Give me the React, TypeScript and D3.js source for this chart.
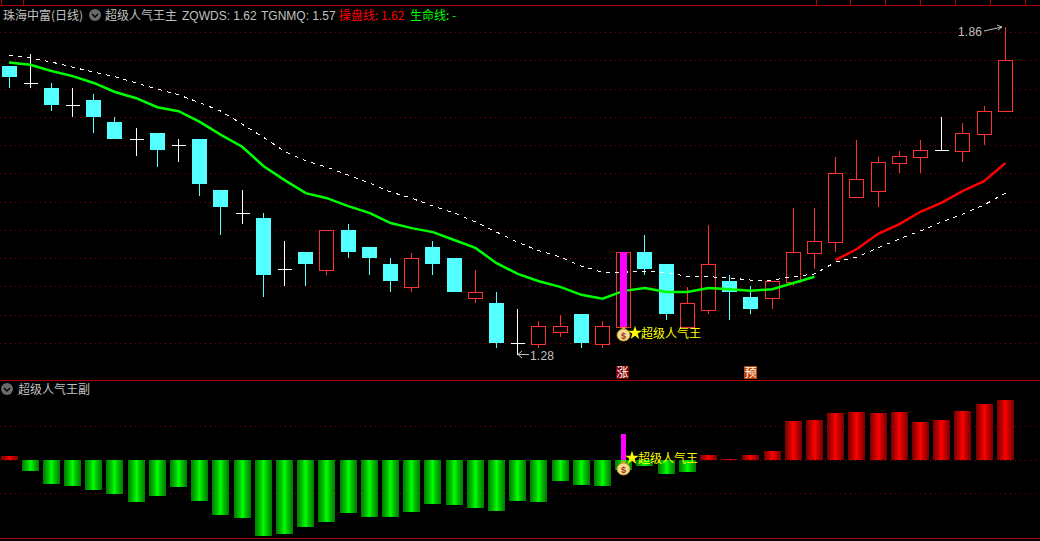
import React from 'react';
import * as d3 from 'd3';

const WIDTH = 1040;
const HEIGHT = 541;

// daily candles
const highs = [1.791, 1.812, 1.761, 1.752, 1.741, 1.701, 1.681, 1.672, 1.662, 1.662, 1.571, 1.571, 1.531, 1.481, 1.462, 1.501, 1.511, 1.471, 1.451, 1.46, 1.481, 1.451, 1.43, 1.391, 1.361, 1.34, 1.35, 1.352, 1.34, 1.462, 1.492, 1.441, 1.4, 1.51, 1.421, 1.402, 1.41, 1.54, 1.54, 1.63, 1.66, 1.63, 1.64, 1.66, 1.701, 1.69, 1.72, 1.86];
const opens = [1.791, 1.761, 1.752, 1.722, 1.731, 1.692, 1.662, 1.672, 1.651, 1.662, 1.571, 1.531, 1.522, 1.432, 1.462, 1.43, 1.501, 1.471, 1.441, 1.4, 1.471, 1.451, 1.38, 1.372, 1.301, 1.299, 1.32, 1.352, 1.299, 1.329, 1.462, 1.441, 1.329, 1.359, 1.41, 1.382, 1.38, 1.409, 1.46, 1.479, 1.559, 1.57, 1.619, 1.63, 1.642, 1.64, 1.671, 1.711];
const closes = [1.772, 1.761, 1.722, 1.722, 1.701, 1.662, 1.662, 1.642, 1.651, 1.582, 1.541, 1.531, 1.421, 1.432, 1.441, 1.501, 1.462, 1.451, 1.41, 1.451, 1.441, 1.391, 1.391, 1.301, 1.301, 1.331, 1.331, 1.301, 1.331, 1.462, 1.432, 1.352, 1.372, 1.441, 1.391, 1.361, 1.41, 1.462, 1.481, 1.602, 1.591, 1.621, 1.632, 1.642, 1.642, 1.672, 1.711, 1.801];
const lows = [1.752, 1.752, 1.711, 1.701, 1.672, 1.662, 1.632, 1.612, 1.621, 1.561, 1.492, 1.511, 1.382, 1.402, 1.402, 1.421, 1.451, 1.421, 1.391, 1.391, 1.421, 1.391, 1.372, 1.292, 1.28, 1.292, 1.311, 1.292, 1.292, 1.329, 1.421, 1.341, 1.329, 1.352, 1.341, 1.352, 1.361, 1.402, 1.432, 1.462, 1.559, 1.541, 1.602, 1.602, 1.642, 1.621, 1.651, 1.711];

// 操盘线 / 生命线 share one series, it turns red from index 39 on
const mainLine = [1.797, 1.793, 1.782, 1.773, 1.761, 1.745, 1.734, 1.718, 1.711, 1.692, 1.669, 1.648, 1.614, 1.589, 1.566, 1.557, 1.543, 1.531, 1.513, 1.504, 1.497, 1.483, 1.469, 1.442, 1.423, 1.41, 1.4, 1.386, 1.379, 1.393, 1.398, 1.391, 1.391, 1.398, 1.396, 1.393, 1.396, 1.407, 1.418, 1.448, 1.467, 1.494, 1.511, 1.533, 1.549, 1.57, 1.587, 1.619];
const dashLine = [1.81, 1.805, 1.798, 1.789, 1.78, 1.772, 1.761, 1.75, 1.74, 1.726, 1.711, 1.688, 1.665, 1.64, 1.623, 1.612, 1.598, 1.584, 1.568, 1.557, 1.543, 1.531, 1.515, 1.497, 1.479, 1.464, 1.453, 1.437, 1.426, 1.426, 1.428, 1.425, 1.419, 1.418, 1.416, 1.412, 1.412, 1.418, 1.423, 1.444, 1.453, 1.469, 1.485, 1.499, 1.515, 1.529, 1.545, 1.566];
const RED_FROM = 39;

const priceGrid = [1.3, 1.35, 1.4, 1.45, 1.5, 1.55, 1.6, 1.65, 1.7, 1.75, 1.8, 1.85];

// lower pane histogram
const subBars = [0.13, -0.32, -0.71, -0.77, -0.89, -1.01, -1.24, -1.07, -0.8, -1.21, -1.63, -1.72, -2.26, -2.2, -1.99, -1.84, -1.57, -1.69, -1.69, -1.54, -1.3, -1.33, -1.42, -1.51, -1.21, -1.24, -0.62, -0.74, -0.77, -0.29, -0.17, -0.41, -0.35, 0.16, 0.03, 0.16, 0.28, 1.17, 1.2, 1.41, 1.44, 1.41, 1.44, 1.14, 1.2, 1.47, 1.68, 1.8];
const subGrid = [-1, 0, 1];
const SIGNAL_INDEX = 29;
const SIGNAL_BAR = 0.8;
const WARN_INDEX = 35;

const topTabs = [1, 23, 816, 850, 885, 920, 955, 990, 1025];

const CYAN = '#54ffff';
const RED = '#ff3232';
const GRID = '#900000';
const BORDER = '#b00000';
const GREY = '#c0c0c0';
const CJK = '"Noto Sans CJK SC", "Liberation Sans", sans-serif';
const LATIN = '"Liberation Sans", "Noto Sans CJK SC", sans-serif';

const xScale = d3.scaleLinear().domain([0, 47]).range([9, 1005.3]);
const yPrice = d3.scaleLinear().domain([1.28, 1.86]).range([354.7, 27]);
const ySub = d3.scaleLinear().domain([-1, 1]).range([493.8, 426.8]);

const px = (v: number) => Math.floor(v) + 0.5;
const cx = (i: number) => px(xScale(i));

const priceLine = d3.line<number>()
  .x((_, i) => xScale(i))
  .y(d => yPrice(d));

const starPath = d3.symbol(d3.symbolStar, 60)() || '';

const Chevron = ({ x, y }: { x: number; y: number }) => (
  <g>
    <circle cx={x} cy={y} r={6} fill="#6a6a6a" />
    <path d={`M${x - 3},${y - 1} L${x},${y + 2} L${x + 3},${y - 1}`} fill="none" stroke="#000" strokeWidth={1.4} />
  </g>
);

const MoneyBag = ({ x, y }: { x: number; y: number }) => (
  <g>
    <rect x={x - 2} y={y - 8} width={4} height={3} fill="#d8a030" />
    <ellipse cx={x} cy={y} rx={6.5} ry={6} fill="#f4dc90" stroke="#c89030" strokeWidth={1} />
    <text x={x} y={y + 3.5} fontSize={9} fontWeight="bold" fontFamily={LATIN} textAnchor="middle" fill="#a03020">$</text>
  </g>
);

const StarLabel = ({ x, y }: { x: number; y: number }) => (
  <g>
    <path d={starPath} transform={`translate(${x + 6},${y - 5})`} fill="#ffff00" />
    <text x={x + 12} y={y} fontSize={12} fontFamily={CJK} fill="#ffff00">超级人气王</text>
  </g>
);

const Candle = ({ i }: { i: number }) => {
  const x = cx(i);
  const top = Math.round(yPrice(Math.max(opens[i], closes[i])));
  const bottom = Math.round(yPrice(Math.min(opens[i], closes[i])));
  const hi = Math.round(yPrice(highs[i]));
  const lo = Math.round(yPrice(lows[i]));

  if (opens[i] === closes[i]) {
    return (
      <g stroke="#fff" strokeWidth={1} shapeRendering="crispEdges">
        <line x1={x} x2={x} y1={hi} y2={lo} />
        <line x1={x - 7} x2={x + 7} y1={top + 0.5} y2={top + 0.5} />
      </g>
    );
  }
  if (closes[i] < opens[i]) {
    return (
      <g shapeRendering="crispEdges">
        <line x1={x} x2={x} y1={hi} y2={lo} stroke={CYAN} />
        <rect x={x - 7.5} y={top} width={15} height={bottom - top} fill={CYAN} />
      </g>
    );
  }
  return (
    <g stroke={RED} strokeWidth={1} shapeRendering="crispEdges">
      <line x1={x} x2={x} y1={hi} y2={top} />
      <line x1={x} x2={x} y1={bottom} y2={lo} />
      <rect x={x - 7} y={top + 0.5} width={14} height={bottom - top} fill="#000" />
    </g>
  );
};

const barStops = (dark: string, mid: string, bright: string) => (
  <>
    <stop offset="0%" stopColor={dark} />
    <stop offset="30%" stopColor={mid} />
    <stop offset="50%" stopColor={bright} />
    <stop offset="70%" stopColor={mid} />
    <stop offset="100%" stopColor={dark} />
  </>
);

export default function App() {
  const greenPath = priceLine.defined((_, i) => i < RED_FROM)(mainLine) || '';
  const redPath = priceLine.defined((_, i) => i >= RED_FROM)(mainLine) || '';
  const dashPath = priceLine.defined(() => true)(dashLine) || '';
  const zero = ySub(0);

  return (
    <svg
      width={WIDTH}
      height={HEIGHT}
      style={{ position: 'fixed', left: 0, top: 0, background: '#000', display: 'block' }}
    >
      <defs>
        <linearGradient id="barGreen">{barStops('#007a00', '#00c000', '#00ff00')}</linearGradient>
        <linearGradient id="barRed">{barStops('#780000', '#c00000', '#ff0000')}</linearGradient>
      </defs>

      {/* pane borders */}
      <g stroke={BORDER} strokeWidth={1} shapeRendering="crispEdges">
        <line x1={0} x2={WIDTH} y1={5.5} y2={5.5} />
        <line x1={0} x2={WIDTH} y1={380.5} y2={380.5} />
        <line x1={0} x2={WIDTH} y1={538.5} y2={538.5} />
        {topTabs.map(x => <line key={x} x1={x + 0.5} x2={x + 0.5} y1={0} y2={5} />)}
      </g>

      {/* price grid */}
      <g stroke={GRID} strokeWidth={1} strokeDasharray="1 4" shapeRendering="crispEdges">
        {priceGrid.map(v => (
          <line key={v} x1={0} x2={WIDTH} y1={Math.floor(yPrice(v)) + 0.5} y2={Math.floor(yPrice(v)) + 0.5} />
        ))}
        {subGrid.map(v => (
          <line key={v} x1={0} x2={WIDTH} y1={Math.floor(ySub(v)) + 0.5} y2={Math.floor(ySub(v)) + 0.5} />
        ))}
      </g>

      {/* candles */}
      {highs.map((_, i) => <Candle key={i} i={i} />)}

      {/* moving lines */}
      <path d={dashPath} fill="none" stroke="#fff" strokeWidth={1} strokeDasharray="4 5" shapeRendering="crispEdges" />
      <path d={greenPath} fill="none" stroke="#00ff00" strokeWidth={2.5} />
      <path d={redPath} fill="none" stroke="#ff0000" strokeWidth={2.5} />

      {/* signal day */}
      <rect
        x={cx(SIGNAL_INDEX) - 3.5}
        y={Math.round(yPrice(highs[SIGNAL_INDEX]))}
        width={7}
        height={Math.round(yPrice(lows[SIGNAL_INDEX])) - Math.round(yPrice(highs[SIGNAL_INDEX]))}
        fill="#ff00ff"
      />
      <MoneyBag x={cx(SIGNAL_INDEX)} y={335} />
      <StarLabel x={629} y={338} />

      {/* high / low marks */}
      <text x={958} y={36} fontSize={12} letterSpacing={0.2} fontFamily={LATIN} fill={GREY}>1.86</text>
      <path d="M984,31 L1002,27 M997,25 L1002,27 L998,30" fill="none" stroke={GREY} strokeWidth={1} />
      <text x={530} y={360} fontSize={12} letterSpacing={0.2} fontFamily={LATIN} fill={GREY}>1.28</text>
      <path d="M529,354.5 L518,354.5 M522,351 L518,354.5 L522,358" fill="none" stroke={GREY} strokeWidth={1} />

      {/* event tags */}
      <rect x={616} y={366} width={13} height={13} fill="#800000" />
      <text x={622.5} y={377} fontSize={12} fontFamily={CJK} textAnchor="middle" fill="#fff">涨</text>
      <rect x={cx(WARN_INDEX) - 6.5} y={366} width={13} height={13} fill="#c04000" />
      <text x={cx(WARN_INDEX)} y={377} fontSize={12} fontFamily={CJK} textAnchor="middle" fill="#fff">预</text>

      {/* lower pane */}
      {subBars.map((v, i) => {
        const y = Math.round(ySub(Math.max(v, 0)));
        const h = Math.max(1, Math.abs(Math.round(ySub(v)) - Math.round(zero)));
        return (
          <rect
            key={i}
            x={cx(i) - 8.5}
            y={y}
            width={17}
            height={h}
            fill={v < 0 ? 'url(#barGreen)' : 'url(#barRed)'}
            shapeRendering="crispEdges"
          />
        );
      })}
      <rect
        x={cx(SIGNAL_INDEX) - 2.5}
        y={ySub(SIGNAL_BAR)}
        width={5}
        height={zero - ySub(SIGNAL_BAR)}
        fill="#ff00ff"
        shapeRendering="crispEdges"
      />
      <MoneyBag x={cx(SIGNAL_INDEX)} y={469} />
      <StarLabel x={626} y={463} />

      {/* titles */}
      <text x={3} y={20} fontSize={12} fontFamily={CJK} fill={GREY}>珠海中富(日线)</text>
      <Chevron x={95} y={15} />
      <text x={105} y={20} fontSize={12} fontFamily={CJK} fill={GREY}>超级人气王主</text>
      <text x={182} y={20} fontSize={12} fontFamily={LATIN} fill={GREY}>ZQWDS: 1.62</text>
      <text x={261} y={20} fontSize={12} fontFamily={LATIN} fill={GREY}>TGNMQ: 1.57</text>
      <text x={339} y={20} fontSize={12} fontFamily={CJK} fill="#ff0000">操盘线: 1.62</text>
      <text x={410} y={20} fontSize={12} fontFamily={CJK} fill="#00ff00">生命线: -</text>
      <Chevron x={7} y={389} />
      <text x={18} y={394} fontSize={12} fontFamily={CJK} fill={GREY}>超级人气王副</text>
    </svg>
  );
}
